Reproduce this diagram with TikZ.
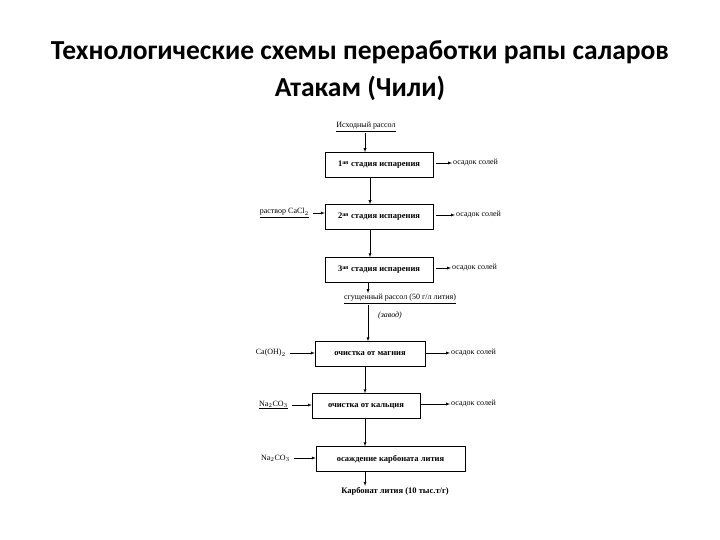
\documentclass[tikz,border=0pt]{standalone}
\usepackage{fontspec}
\setmainfont{Liberation Serif}
\newfontfamily\titlefont{Carlito}
\begin{document}
\begin{tikzpicture}[x=1pt,y=-1pt,
 box/.style={draw,line width=0.5pt,minimum height=25pt,inner sep=1pt,font=\fontsize{8.5}{9}\selectfont\bfseries},
 lbl/.style={font=\fontsize{8}{9}\selectfont,inner sep=1pt},
 arr/.style={-latex,line width=0.4pt}]
\useasboundingbox (0,0) rectangle (720,540);
\node[font=\titlefont\fontsize{27.5}{30}\selectfont\bfseries] (t1) at (360,52) {Технологические схемы переработки рапы саларов};
\node[font=\titlefont\fontsize{27.5}{30}\selectfont\bfseries] (t2) at (360,88) {Атакам (Чили)};
\node[lbl] (src) at (366,127) {\underline{Исходный рассол}};
\node[box,minimum width=108pt] (b1) at (379,165) {1\textsuperscript{ая} стадия испарения};
\node[box,minimum width=108pt] (b2) at (379,217) {2\textsuperscript{ая} стадия испарения};
\node[box,minimum width=108pt] (b3) at (379,270) {3\textsuperscript{ая} стадия испарения};
\node[lbl] (conc) at (400,299) {\underline{сгущенный рассол (50 г/л лития)}};
\node[lbl,font=\fontsize{8}{9}\selectfont\itshape] (zav) at (390,316) {(завод)};
\node[box,minimum width=110pt] (b4) at (370,354) {очистка от магния};
\node[box,minimum width=108pt] (b5) at (366,406) {очистка от кальция};
\node[box,minimum width=149pt] (b6) at (390.5,459) {осаждение карбоната лития};
\node[lbl,font=\fontsize{8.5}{9}\selectfont\bfseries] (fin) at (395,491) {Карбонат лития (10 тыс.т/г)};
\node[lbl,anchor=west] (o1) at (452,163) {осадок солей};
\node[lbl,anchor=west] (o2) at (455,215) {осадок солей};
\node[lbl,anchor=west] (o3) at (451,268) {осадок солей};
\node[lbl,anchor=west] (o4) at (450,353) {осадок солей};
\node[lbl,anchor=west] (o5) at (450,404) {осадок солей};
\node[lbl,anchor=east] (l2) at (310,213) {\underline{раствор CaCl$_2$}};
\node[lbl,anchor=east] (l4) at (287,353) {Ca(OH)$_2$};
\node[lbl,anchor=east] (l5) at (289,405) {\underline{Na$_2$CO$_3$}};
\node[lbl,anchor=east] (l6) at (291,458) {Na$_2$CO$_3$};
\draw[arr] (src.south -| 365,0) -- (b1.north -| 365,0);
\draw[arr] (b1.south -| 370,0) -- (b2.north -| 370,0);
\draw[arr] (b2.south -| 370,0) -- (b3.north -| 370,0);
\draw[arr] (b3.south -| 368,0) -- (conc.north -| 368,0);
\draw[arr] (conc.south -| 368,0) -- (b4.north -| 368,0);
\draw[arr] (b4.south -| 365,0) -- (b5.north -| 365,0);
\draw[arr] (b5.south -| 365,0) -- (b6.north -| 365,0);
\draw[arr] (b6.south -| 365,0) -- (fin.north -| 365,0);
\draw[arr] ([xshift=3pt]b1.east |- o1) -- (o1.west);
\draw[arr] ([xshift=3pt]b2.east |- o2) -- (o2.west);
\draw[arr] ([xshift=3pt]b3.east |- o3) -- (o3.west);
\draw[arr] (b4.east |- o4) -- (o4.west);
\draw[arr] (b5.east |- o5) -- (o5.west);
\draw[arr] ([xshift=3pt]l2.east) -- (b2.west |- l2);
\draw[arr] ([xshift=3pt]l4.east) -- (b4.west |- l4);
\draw[arr] ([xshift=3pt]l5.east) -- (b5.west |- l5);
\draw[arr] ([xshift=3pt]l6.east) -- (b6.west |- l6);
\end{tikzpicture}
\end{document}
